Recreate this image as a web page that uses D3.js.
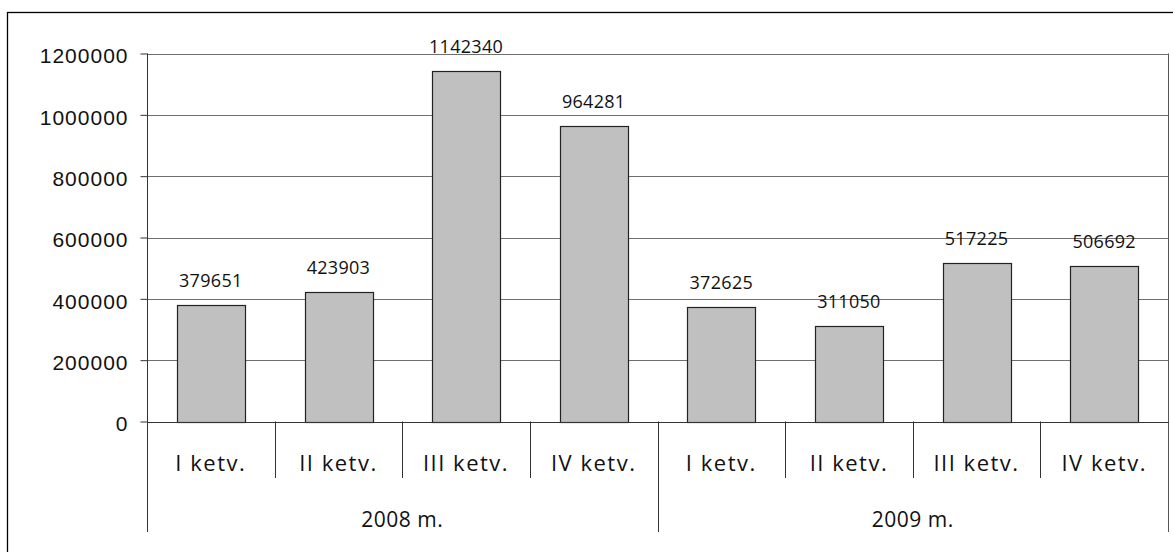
<!DOCTYPE html>
<html>
<head>
<meta charset="utf-8">
<script src="https://cdn.jsdelivr.net/npm/d3@7"></script>
<style>
  body { margin: 0; background: #fff; }
  svg { display: block; font-family: "Open Sans", sans-serif; }
</style>
</head>
<body>
<div id="chart"></div>
<script>
// Data
var years = ['2008 m.', '2009 m.'];
var quarters = ['I ketv.', 'II ketv.', 'III ketv.', 'IV ketv.'];
var values2008 = [379651, 423903, 1142340, 964281];
var values2009 = [372625, 311050, 517225, 506692];
var yTicks = [0, 200000, 400000, 600000, 800000, 1000000, 1200000];

var chartW = 1173, chartH = 552;
var plotLeft = 147, plotRight = 1168, plotTop = 53.5, zeroY = 421.5;

// Flatten into one row per bar.
var rows = [];
years.forEach(function(yr, yi) {
  var vals = yi === 0 ? values2008 : values2009;
  quarters.forEach(function(q, qi) {
    rows.push({key: yr + '|' + q, year: yr, quarter: q, value: vals[qi]});
  });
});
var keys = rows.map(function(d) { return d.key; });

var svg = d3.select('#chart')
            .append('svg')
            .attr('width', chartW)
            .attr('height', chartH);

// Outer frame (runs off the right and bottom of the picture).
svg.append('rect')
   .attr('x', 7.5)
   .attr('y', 12.5)
   .attr('width', chartW + 20)
   .attr('height', chartH + 20)
   .attr('fill', 'none')
   .attr('stroke', '#000')
   .attr('stroke-width', 1.3);

// Scales.
var y = d3.scaleLinear().domain([0, 1200000]).range([zeroY, plotTop]);
var xSlot = d3.scaleBand().domain(keys).range([plotLeft, plotRight]).padding(0);
var xBar = d3.scaleBand().domain(keys).range([plotLeft, plotRight])
             .paddingInner(0.47).paddingOuter(0.235);
var xYear = d3.scaleBand().domain(years).range([plotLeft, plotRight]).padding(0);

// Gridlines.
svg.append('g')
   .selectAll('line')
   .data(yTicks.filter(function(t) { return t > 0; }))
   .enter().append('line')
   .attr('x1', plotLeft)
   .attr('x2', plotRight)
   .attr('y1', function(d) { return Math.round(y(d)) + 0.5; })
   .attr('y2', function(d) { return Math.round(y(d)) + 0.5; })
   .attr('stroke', '#6f6f6f')
   .attr('stroke-width', 1);

// Y axis.
var yAxis = svg.append('g')
   .attr('transform', 'translate(' + (plotLeft + 0.5) + ',0)')
   .call(d3.axisLeft(y).tickValues(yTicks).tickSize(7).tickPadding(12)
           .tickFormat(function(d) { return String(d); }));
yAxis.select('.domain').remove();
yAxis.selectAll('.tick line').attr('stroke', '#333');
yAxis.selectAll('.tick text')
     .attr('font-size', 21)
     .attr('letter-spacing', 1)
     .attr('fill', '#111')
     .attr('dy', '0.45em');
svg.append('line')
   .attr('x1', plotLeft + 0.5).attr('x2', plotLeft + 0.5)
   .attr('y1', plotTop).attr('y2', 532)
   .attr('stroke', '#333');

// Right plot border.
svg.append('line')
   .attr('x1', plotRight + 0.5).attr('x2', plotRight + 0.5)
   .attr('y1', plotTop).attr('y2', 532)
   .attr('stroke', '#555');

// Bars.
svg.append('g')
   .selectAll('rect')
   .data(rows)
   .enter().append('rect')
   .attr('x', function(d) { return Math.round(xBar(d.key)) + 0.5; })
   .attr('y', function(d) { return Math.round(y(d.value)) + 0.5; })
   .attr('width', function(d) { return Math.round(xBar.bandwidth()); })
   .attr('height', function(d) { return Math.round(zeroY) - Math.round(y(d.value)); })
   .attr('fill', '#c0c0c0')
   .attr('stroke', '#222')
   .attr('stroke-width', 1.2);

// Value labels.
svg.append('g')
   .selectAll('text')
   .data(rows)
   .enter().append('text')
   .attr('x', function(d) { return xBar(d.key) + xBar.bandwidth() / 2; })
   .attr('y', function(d) { return y(d.value) - 18; })
   .attr('text-anchor', 'middle')
   .attr('font-size', 18)
   .attr('letter-spacing', 0.3)
   .attr('fill', '#111')
   .text(function(d) { return d.value; });

// X axis line at zero.
svg.append('line')
   .attr('x1', plotLeft).attr('x2', plotRight + 1)
   .attr('y1', Math.round(zeroY) + 0.5).attr('y2', Math.round(zeroY) + 0.5)
   .attr('stroke', '#333');

// Quarter separators (short) and year separators (long).
svg.append('g')
   .selectAll('line')
   .data(keys.slice(1))
   .enter().append('line')
   .attr('x1', function(d) { return Math.round(xSlot(d)) + 0.5; })
   .attr('x2', function(d) { return Math.round(xSlot(d)) + 0.5; })
   .attr('y1', zeroY)
   .attr('y2', function(d) { return d.split('|')[1] === quarters[0] ? 532 : 478; })
   .attr('stroke', '#333');

// Quarter labels.
svg.append('g')
   .selectAll('text')
   .data(rows)
   .enter().append('text')
   .attr('x', function(d) { return xSlot(d.key) + xSlot.bandwidth() / 2; })
   .attr('y', 471)
   .attr('text-anchor', 'middle')
   .attr('font-size', 22)
   .attr('letter-spacing', 1.5)
   .attr('fill', '#111')
   .text(function(d) { return d.quarter; });

// Year labels.
svg.append('g')
   .selectAll('text')
   .data(years)
   .enter().append('text')
   .attr('x', function(d) { return xYear(d) + xYear.bandwidth() / 2; })
   .attr('y', 527)
   .attr('text-anchor', 'middle')
   .attr('font-size', 21)
   .attr('letter-spacing', 0.5)
   .attr('fill', '#111')
   .text(function(d) { return d; });
</script>
</body>
</html>
